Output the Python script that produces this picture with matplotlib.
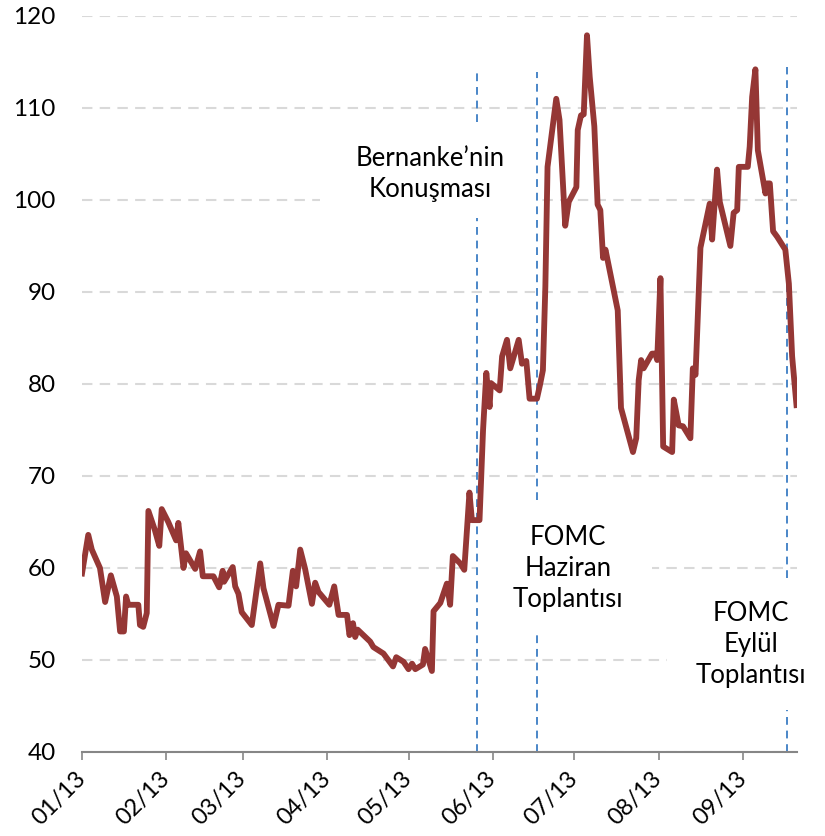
import pandas as pd
import matplotlib.pyplot as plt
import matplotlib.dates as mdates
from matplotlib.patches import Rectangle

plt.rcParams['font.family'] = ['Lato', 'DejaVu Sans']

# days after 01.01.2013 and index values
days = [0, 2.3, 3.6, 6.6, 8.5, 10.6, 12.8, 14.0, 15.4, 16.2, 17.0, 20.7, 21.3, 22.5, 23.8,
        24.4, 26.8, 28.4, 29.3, 31.7, 34.6, 35.4, 37.3, 38.2, 41.6, 43.4, 44.4, 48.3, 50.4,
        51.7, 52.2, 55.4, 56.3, 57.5, 58.7, 62.4, 65.5, 66.7, 70.4, 72.2, 75.9, 77.5, 78.7,
        80.2, 82.0, 84.5, 85.7, 86.9, 90.9, 92.7, 94.3, 97.4, 98.3, 99.6, 100.4, 101.3,
        105.9, 107.1, 110.8, 114.3, 115.5, 118.2, 120.0, 121.3, 122.5, 125.3, 126.1, 128.6,
        129.2, 131.7, 134.1, 135.3, 136.3, 139.0, 140.5, 142.4, 143.3, 146.1, 147.4, 148.6,
        149.8, 150.3, 153.5, 154.4, 156.2, 157.4, 160.5, 161.7, 163.3, 164.5, 167.2, 168.4,
        169.4, 170.3, 171.1, 174.3, 175.5, 177.6, 178.9, 181.7, 182.2, 183.4, 184.4, 185.6,
        186.6, 188.3, 189.5, 190.5, 191.5, 192.4, 196.9, 198.1, 202.5, 203.7, 204.6, 205.5,
        206.4, 209.5, 210.7, 211.4, 212.6, 213.6, 216.9, 217.5, 219.3, 220.9, 223.6, 224.5,
        225.5, 227.3, 230.7, 231.6, 233.4, 234.4, 238.3, 239.5, 240.8, 241.4, 244.7, 245.4,
        246.3, 247.5, 248.4, 251.2, 251.8, 252.8, 254.0, 255.5, 258.5, 259.8, 261.0, 262.6]
values = [59.4, 63.6, 62.0, 60.0, 56.3, 59.2, 56.9, 53.1, 53.1, 56.9, 56.0, 56.0, 53.8, 53.6,
          55.1, 66.2, 64.1, 62.4, 66.4, 65.0, 63.0, 64.9, 60.0, 61.6, 59.9, 61.8, 59.1, 59.1,
          57.9, 59.7, 58.5, 60.1, 58.0, 57.2, 55.2, 53.8, 60.5, 57.8, 53.7, 56.0, 55.9, 59.7,
          58.0, 62.0, 59.9, 56.1, 58.4, 57.4, 56.0, 58.0, 54.9, 54.9, 52.7, 54.0, 52.5, 53.3,
          52.0, 51.4, 50.7, 49.3, 50.3, 49.8, 49.0, 49.6, 49.0, 49.5, 51.2, 48.8, 55.3, 56.2,
          58.3, 56.0, 61.3, 60.5, 59.8, 68.2, 65.2, 65.2, 75.0, 81.2, 77.5, 80.1, 79.3, 83.0,
          84.8, 81.7, 84.8, 82.2, 82.5, 78.4, 78.4, 80.0, 81.5, 90.6, 103.6, 111.0, 108.7,
          97.2, 99.8, 101.4, 107.6, 109.2, 109.3, 117.9, 113.4, 108.0, 99.5, 98.9, 93.7, 94.6,
          88.0, 77.4, 72.6, 74.1, 80.4, 82.6, 81.7, 83.3, 83.3, 82.6, 91.5, 73.2, 72.6, 78.3,
          75.5, 75.4, 74.1, 81.7, 81.0, 94.8, 99.6, 95.7, 103.3, 99.8, 95.0, 98.6, 98.9, 103.6,
          103.6, 105.8, 111.2, 114.2, 105.4, 100.7, 101.8, 101.8, 96.6, 96.0, 94.6, 90.9, 83.0,
          77.7]

# event days (vertical dashed lines) and their labels
event_days = [145.0, 167.1, 259.0]
event_labels = ['Bernanke’nin\nKonuşması', 'FOMC\nHaziran\nToplantısı', 'FOMC\nEylül\nToplantısı']
label_days = [128.0, 178.7, 245.7]
label_values = [102.8, 59.9, 51.7]

start = pd.Timestamp('2013-01-01')
dates = start + pd.to_timedelta(days, unit='D')
month_ticks = pd.date_range('2013-01-01', '2013-09-01', freq='MS')

fig = plt.figure(figsize=(8.25, 8.36), dpi=100)
ax = fig.add_axes([0.0994, 0.1005, 0.8667, 0.8804])

ax.set_axisbelow(True)
ax.grid(axis='y', color='#d9d9d9', linewidth=1.5, linestyle=(0, (5, 3.5)))
ax.grid(axis='x', visible=False)

# white text boxes hiding the grid (axes fraction)
for x0, y0, w, h in [(0.333, 0.7255, 0.309, 0.1305),
                     (0.5524, 0.163, 0.2446, 0.179),
                     (0.818, 0.057, 0.19, 0.179)]:
    ax.add_patch(Rectangle((x0, y0), w, h, transform=ax.transAxes, facecolor='white',
                           edgecolor='none', zorder=1, clip_on=False))

# vertical event lines, broken around the labels
segments = [[(0, 0.7255), (0.856, 0.924)],
            [(0, 0.163), (0.342, 0.924)],
            [(0, 0.057), (0.236, 0.931)]]
for d, segs in zip(event_days, segments):
    for lo, hi in segs:
        ax.axvline(start + pd.Timedelta(days=d), ymin=lo, ymax=hi, color='#4a86c8',
                   linewidth=1.4, linestyle=(0, (4, 3)), zorder=2)

ax.plot(dates, values, color='#953735', linewidth=4.2, solid_joinstyle='round', zorder=3)

for d, v, t in zip(label_days, label_values, event_labels):
    ax.text(start + pd.Timedelta(days=d), v, t, ha='center', va='center', fontsize=18.5,
            linespacing=1.3, zorder=4)

ax.set_ylim(40, 120)
ax.set_yticks(range(40, 121, 10))
ax.set_xlim(start, start + pd.Timedelta(days=262.8))
ax.set_xticks(month_ticks)
ax.xaxis.set_major_formatter(mdates.DateFormatter('%m/%y'))
plt.setp(ax.get_xticklabels(), rotation=45, ha='right', va='center', rotation_mode='anchor')

for s in ['top', 'right', 'left']:
    ax.spines[s].set_visible(False)
ax.spines['bottom'].set_color('#868686')
ax.spines['bottom'].set_linewidth(1.5)
ax.tick_params(axis='x', direction='out', length=6, width=1.2, color='#868686',
               labelsize=17, pad=11)
ax.tick_params(axis='y', length=0, labelsize=17.5, pad=19)

plt.savefig('out.png', dpi=100)
